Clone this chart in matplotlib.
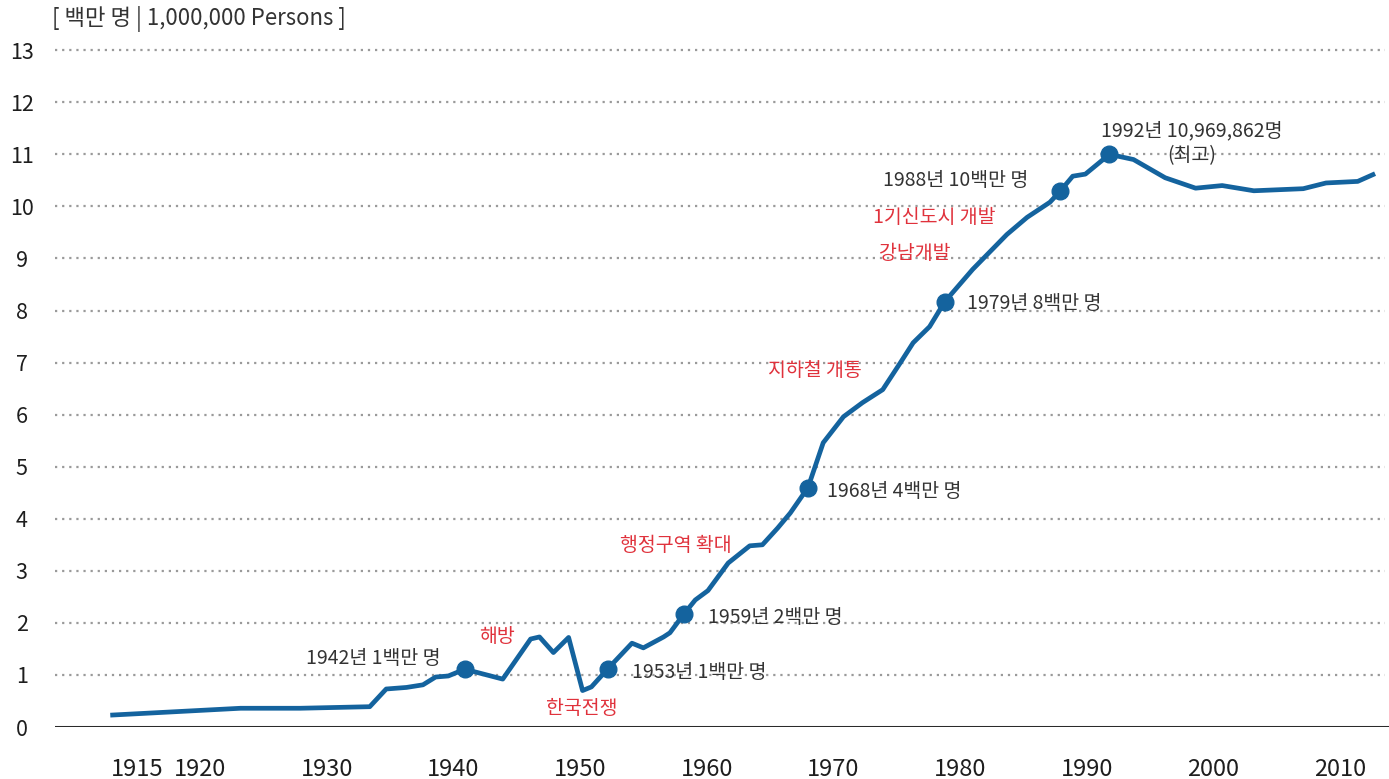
import matplotlib
matplotlib.use('Agg')
import matplotlib.pyplot as plt

plt.rcParams['font.family'] = ['Noto Sans CJK KR', 'DejaVu Sans']

# Seoul population (million persons)
years = [1913.1, 1923.2, 1927.9, 1933.4, 1934.7, 1936.3, 1937.6, 1938.6, 1939.6,
         1940.9, 1943.9, 1946.1, 1946.8, 1947.9, 1949.1, 1950.2, 1950.9, 1952.2,
         1954.1, 1955.0, 1956.6, 1957.1, 1958.2, 1959.1, 1960.1, 1961.7, 1963.4,
         1964.4, 1965.6, 1966.6, 1968.0, 1969.2, 1970.8, 1972.3, 1973.9, 1975.3,
         1976.3, 1977.6, 1978.8, 1981.0, 1983.7, 1985.3, 1987.1, 1987.9, 1988.9,
         1989.9, 1991.8, 1993.7, 1996.2, 1998.6, 2000.7, 2003.2, 2007.1, 2008.9,
         2011.4, 2012.6]
population = [0.23, 0.36, 0.36, 0.39, 0.73, 0.76, 0.81, 0.96, 0.98,
              1.11, 0.92, 1.69, 1.73, 1.43, 1.72, 0.70, 0.77, 1.12,
              1.61, 1.52, 1.73, 1.81, 2.17, 2.44, 2.62, 3.15, 3.48,
              3.50, 3.82, 4.11, 4.60, 5.46, 5.96, 6.23, 6.48, 7.00,
              7.38, 7.69, 8.17, 8.79, 9.46, 9.79, 10.08, 10.29, 10.58,
              10.62, 11.00, 10.90, 10.55, 10.35, 10.40, 10.30, 10.34, 10.45,
              10.48, 10.61]

# milestone points (index into the series above) and their labels
milestone_idx = [9, 17, 22, 30, 38, 43, 46]
milestone_text = ['1942년 1백만 명', '1953년 1백만 명', '1959년 2백만 명',
                  '1968년 4백만 명', '1979년 8백만 명', '1988년 10백만 명',
                  '1992년 10,969,862명\n(최고)']

events = ['해방', '한국전쟁', '행정구역 확대', '지하철 개통', '강남개발', '1기신도시 개발']

xticks = [1915, 1920, 1930, 1940, 1950, 1960, 1970, 1980, 1990, 2000, 2010]
yticks = list(range(0, 14))

blue = '#14639e'
red = '#e0323c'
dark = '#333333'

fig = plt.figure(figsize=(13.89, 7.79), dpi=100)
ax = fig.add_axes([55 / 1389, 52 / 779, 1334 / 1389, 682 / 779])

# dotted grid lines
for v in yticks[1:]:
    ax.axhline(v, xmin=0, xmax=0.997, color='#9a9a9a', lw=1.6,
               linestyle=(0, (1, 2.2)), zorder=1)
ax.axhline(0, color='#2a2a2a', lw=2.2, zorder=2)

ax.plot(years, population, color=blue, lw=3.4, solid_joinstyle='round', zorder=3)
mx = [years[i] for i in milestone_idx]
my = [population[i] for i in milestone_idx]
ax.plot(mx, my, 'o', color=blue, markersize=12, zorder=4)

# milestone labels
lbl = dict(fontsize=14, color=dark, va='center')
ax.text(1938.95, 1.31, milestone_text[0], ha='right', **lbl)
ax.text(1954.1, 1.04, milestone_text[1], ha='left', **lbl)
ax.text(1960.1, 2.11, milestone_text[2], ha='left', **lbl)
ax.text(1969.5, 4.53, milestone_text[3], ha='left', **lbl)
ax.text(1980.55, 8.14, milestone_text[4], ha='left', **lbl)
ax.text(1985.4, 10.50, milestone_text[5], ha='right', **lbl)
ax.text(1998.3, 11.21, milestone_text[6], ha='center', linespacing=1.2, **lbl)

# historical events in red
ev = dict(fontsize=14, color=red, va='center', ha='center')
ax.text(1943.45, 1.73, events[0], **ev)
ax.text(1950.1, 0.35, events[1], **ev)
ax.text(1957.6, 3.49, events[2], **ev)
ax.text(1968.55, 6.85, events[3], **ev)
ax.text(1976.45, 9.10, events[4], **ev)
ax.text(1978.0, 9.79, events[5], **ev)

ax.set_xlim(1908.55, 2013.87)
ax.set_ylim(0, 13.1)
ax.set_xticks(xticks)
ax.set_yticks(yticks)
ax.tick_params(axis='both', length=0, colors='#1e1e1e')
ax.tick_params(axis='x', pad=22, labelsize=17)
ax.tick_params(axis='y', pad=24, labelsize=15.5)
for lab in ax.get_yticklabels():
    lab.set_horizontalalignment('center')
for lab in ax.get_xticklabels() + ax.get_yticklabels():
    lab.set_fontweight('medium')
for s in ax.spines.values():
    s.set_visible(False)

fig.text(52 / 1389, 1 - 19 / 779, '[ 백만 명 | 1,000,000 Persons ]',
         fontsize=16, fontweight='medium', color=dark, va='center', ha='left')

fig.savefig('out.png', dpi=100)
